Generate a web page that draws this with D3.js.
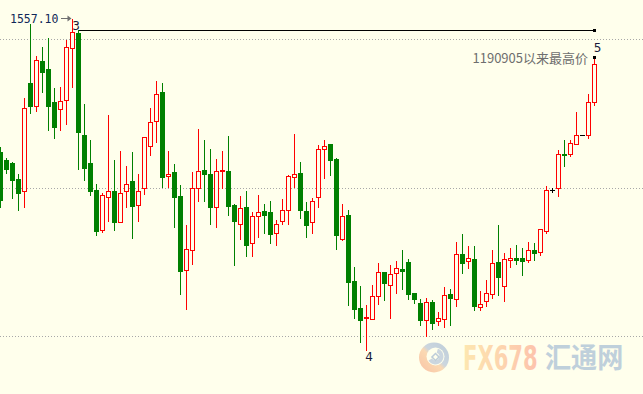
<!DOCTYPE html>
<html><head><meta charset="utf-8">
<script src="https://cdn.jsdelivr.net/npm/d3@7"></script>
<style>html,body{margin:0;padding:0;background:#ffffec;}svg{display:block;}</style>
</head><body>
<svg id="chart" width="643" height="394"></svg>
<script>
// ---- data ----
const opens = [1511.9,1509.2,1508.2,1502.8,1499.0,1535.3,1527.5,1542.4,1540.0,1528.9,
1526.5,1529.5,1547.0,1552.0,1517.6,1508.2,1499.1,1485.7,1496.9,1498.8,
1488.5,1499.0,1502.1,1494.2,1499.7,1514.1,1522.5,1532.2,1504.0,1505.1,
1497.1,1472.4,1478.9,1499.7,1505.8,1504.7,1493.6,1505.4,1505.5,1494.1,
1487.6,1493.6,1481.2,1490.3,1492.1,1491.7,1484.6,1488.9,1492.3,1503.7,
1504.8,1492.1,1488.3,1496.7,1512.8,1514.5,1509.5,1482.8,1490.7,1468.6,
1459.5,1456.0,1455.7,1463.4,1471.6,1467.3,1471.3,1472.5,1474.9,1464.5,
1461.2,1455.5,1461.4,1455.0,1455.7,1464.2,1462.4,1477.5,1475.3,1475.9,
1459.7,1461.7,1464.1,1474.9,1466.8,1475.8,1476.3,1476.3,1475.8,1479.0,
1478.5,1485.4,1499.3,1499.8,1511.3,1511.4,1514.8,1517.5,1517.7,1528.9];
const highs = [1513.5,1509.8,1508.6,1504.7,1530.3,1555.1,1544.7,1547.1,1550.4,1533.3,
1534.3,1549.8,1557.1,1552.9,1528.0,1515.9,1501.1,1498.4,1524.6,1509.2,
1512.5,1507.5,1511.9,1504.8,1517.1,1527.0,1536.0,1535.3,1512.5,1507.8,
1500.7,1487.7,1505.5,1519.9,1515.9,1512.9,1509.8,1512.5,1517.2,1494.4,
1497.4,1498.8,1492.1,1497.8,1494.4,1495.4,1489.4,1496.4,1504.5,1518.2,
1508.5,1495.1,1496.8,1514.5,1516.2,1514.5,1509.8,1494.7,1492.3,1473.3,
1466.9,1460.8,1467.6,1474.9,1471.6,1474.3,1475.7,1479.0,1475.9,1464.5,
1462.5,1463.2,1462.1,1458.4,1466.9,1465.9,1482.0,1484.3,1480.6,1480.3,
1465.5,1469.2,1479.5,1487.4,1478.3,1480.0,1480.6,1479.6,1482.0,1481.3,
1486.2,1500.9,1499.8,1513.0,1515.9,1516.3,1525.6,1517.5,1531.7,1544.0];
const lows = [1493.5,1505.0,1496.5,1492.5,1493.5,1524.9,1525.7,1532.0,1519.3,1516.7,
1519.3,1521.3,1533.8,1506.1,1502.6,1497.4,1484.1,1485.2,1488.8,1485.8,
1488.4,1493.5,1483.1,1488.8,1497.9,1510.9,1515.3,1500.2,1500.2,1486.8,
1464.3,1459.2,1474.4,1495.5,1495.5,1487.8,1486.9,1499.7,1490.8,1474.0,
1482.8,1477.1,1477.1,1483.4,1484.8,1481.4,1480.7,1487.8,1487.8,1500.3,
1489.8,1483.4,1484.8,1493.5,1503.2,1504.2,1479.3,1482.3,1460.5,1456.1,
1448.1,1445.4,1455.7,1460.9,1462.3,1456.2,1464.6,1466.0,1462.4,1461.3,
1453.9,1450.0,1452.6,1453.7,1453.0,1453.7,1460.1,1471.3,1472.9,1458.7,
1458.7,1460.1,1463.0,1464.0,1462.0,1473.2,1474.2,1470.5,1474.9,1475.7,
1477.4,1484.6,1498.5,1497.2,1507.2,1510.6,1514.8,1517.5,1516.5,1527.7];
const closes = [1495.8,1506.4,1502.6,1498.2,1526.8,1527.4,1543.0,1538.8,1527.4,1520.3,
1529.2,1547.3,1552.4,1518.7,1506.6,1498.9,1485.4,1497.4,1498.9,1488.5,
1498.3,1501.3,1493.8,1499.0,1517.1,1522.2,1531.6,1503.6,1504.7,1496.9,
1472.0,1479.2,1499.7,1505.4,1504.6,1493.5,1505.6,1505.8,1493.8,1488.8,
1493.0,1480.7,1490.3,1491.9,1490.8,1484.4,1487.9,1492.3,1504.0,1504.4,
1492.5,1487.5,1495.6,1513.1,1514.1,1509.3,1484.1,1490.3,1468.3,1459.3,
1455.6,1456.5,1463.4,1471.5,1468.0,1471.1,1472.8,1472.0,1464.3,1462.6,
1455.6,1461.4,1454.6,1456.0,1463.8,1462.8,1477.5,1474.5,1476.2,1460.3,
1460.9,1464.4,1474.5,1470.1,1475.9,1476.3,1475.7,1475.4,1478.9,1478.1,
1486.2,1499.3,1499.3,1511.4,1511.0,1515.1,1517.5,1517.5,1528.9,1541.6];
const gridValues = [1450, 1500, 1550];
const peakLabel = "1557.10";
const peakIndex = 12;
const waveLabels = ["3", "4", "5"];
const waveIndex = [12, 61, 99];
const lineFrom = 13, lineTo = 99;           // resistance line from wave-3 bar to last bar
const noteText = "1190905以来最高价";
const wmText = ["FX678", "汇通网"];

// ---- drawing ----
const W = 643, H = 394;
const svg = d3.select("#chart");
svg.append("rect").attr("width", W).attr("height", H).attr("fill", "#ffffec");

const idx = d3.range(opens.length);
const x = d3.scaleLinear().domain([0, 99]).range([0.5, 594.5]);
const y = d3.scaleLinear().domain([1450, 1550]).range([336.8, 39.3]);
const py = v => Math.floor(y(v)) + 0.5;

// watermark
const wm = svg.append("g").attr("opacity", 0.85);
const defs = svg.append("defs");
const g1 = defs.append("linearGradient").attr("id", "fxg").attr("x1", "0").attr("x2", "1");
g1.append("stop").attr("offset", "0").attr("stop-color", "#fde3a6");
g1.append("stop").attr("offset", "1").attr("stop-color", "#fdb9a2");
const g2 = defs.append("linearGradient").attr("id", "lg").attr("x1", "0").attr("y1", "1").attr("x2", "1").attr("y2", "0");
g2.append("stop").attr("offset", "0").attr("stop-color", "#f8b89a");
g2.append("stop").attr("offset", "0.45").attr("stop-color", "#fbd3a8");
g2.append("stop").attr("offset", "0.55").attr("stop-color", "#c3d0dd");
g2.append("stop").attr("offset", "1").attr("stop-color", "#b2c4d6");
const lc = [434, 357.5];
wm.append("circle").attr("cx", lc[0]).attr("cy", lc[1]).attr("r", 15).attr("fill", "url(#lg)");
wm.append("circle").attr("cx", lc[0] + 1.5).attr("cy", lc[1] - 1).attr("r", 9).attr("fill", "#ffffec");
wm.append("path").attr("d", d3.arc()({innerRadius: 4, outerRadius: 8, startAngle: 0.3, endAngle: 4.2}))
  .attr("transform", `translate(${lc[0] + 1.5},${lc[1] - 1})`).attr("fill", "#c3d0dd");
wm.append("rect").attr("x", lc[0] - 1).attr("y", lc[1] - 3).attr("width", 5).attr("height", 5)
  .attr("transform", `rotate(45,${lc[0] + 1.5},${lc[1] - 0.5})`).attr("fill", "none").attr("stroke", "#b2c4d6").attr("stroke-width", 1.5);
wm.append("text").attr("transform", "translate(463,370) scale(0.62,1)").attr("x", 0).attr("y", 0)
  .attr("font-family", "DejaVu Sans").attr("font-weight", "bold")
  .attr("font-size", 34).attr("fill", "url(#fxg)").text(wmText[0]);
wm.append("text").attr("transform", "translate(545,368) scale(0.9,1)").attr("x", 0).attr("y", 0)
  .attr("font-family", "Noto Sans CJK SC").attr("font-weight", "bold")
  .attr("font-size", 29).attr("fill", "#b5c8d9").text(wmText[1]);

// grid
svg.append("g").selectAll("line").data(gridValues).join("line")
  .attr("x1", 0).attr("x2", W).attr("y1", d => py(d)).attr("y2", d => py(d))
  .attr("stroke", "#a8a8a8").attr("stroke-dasharray", "1,2");

// candles
const RED = "#ff0000", GREEN = "#008000", BLACK = "#000000";
const colorOf = i => closes[i] > opens[i] ? RED : closes[i] < opens[i] ? GREEN : BLACK;
const cg = svg.append("g").attr("shape-rendering", "crispEdges");
idx.forEach(i => {
  const xc = x(i);
  const col = colorOf(i);
  const top = Math.max(opens[i], closes[i]), bot = Math.min(opens[i], closes[i]);
  const yt = py(top), yb = py(bot);
  if (col === RED) {
    cg.append("line").attr("x1", xc).attr("x2", xc).attr("y1", py(highs[i])).attr("y2", yt).attr("stroke", RED);
    cg.append("line").attr("x1", xc).attr("x2", xc).attr("y1", yb).attr("y2", py(lows[i]) + 0.5).attr("stroke", RED);
    cg.append("rect").attr("x", xc - 2).attr("y", yt).attr("width", 4).attr("height", Math.max(1, yb - yt))
      .attr("fill", "#ffffec").attr("stroke", RED);
  } else if (col === GREEN) {
    cg.append("line").attr("x1", xc).attr("x2", xc).attr("y1", py(highs[i]) - 0.5).attr("y2", py(lows[i]) + 0.5).attr("stroke", GREEN);
    cg.append("rect").attr("x", xc - 2.5).attr("y", yt - 0.5).attr("width", 5).attr("height", Math.max(1, yb - yt + 1))
      .attr("fill", GREEN);
  } else {
    cg.append("line").attr("x1", xc).attr("x2", xc).attr("y1", py(highs[i]) - 0.5).attr("y2", py(lows[i]) + 0.5).attr("stroke", BLACK);
    cg.append("line").attr("x1", xc - 2.5).attr("x2", xc + 2.5).attr("y1", yt).attr("y2", yt).attr("stroke", BLACK);
  }
});

// resistance line and markers
const ly = py(highs[lineFrom]);
svg.append("line").attr("x1", x(lineFrom)).attr("x2", x(lineTo)).attr("y1", ly).attr("y2", ly)
  .attr("stroke", "#000").attr("stroke-width", 1).attr("shape-rendering", "crispEdges");
svg.append("rect").attr("x", x(lineTo) - 1.5).attr("y", ly - 1.5).attr("width", 3).attr("height", 3).attr("fill", "#000");
svg.append("rect").attr("x", x(99) - 1.5).attr("y", py(highs[99]) - 1.5).attr("width", 3).attr("height", 3).attr("fill", "#000");

// peak label with arrow
const pky = y(highs[peakIndex]);
svg.append("text").attr("x", 10).attr("y", pky + 5).attr("font-family", "DejaVu Sans Mono").attr("font-size", 11.5)
  .attr("fill", "#102858").text(peakLabel);
svg.append("line").attr("x1", 61).attr("x2", x(peakIndex) - 3).attr("y1", Math.round(pky) + 0.5).attr("y2", Math.round(pky) + 0.5)
  .attr("stroke", "#707070");
svg.append("path").attr("d", `M${x(peakIndex) - 1},${Math.round(pky) + 0.5} l-4,-3 l0,6 z`).attr("fill", "#707070");

// wave labels
const waveY = [y(highs[12]) + 11.5, y(lows[61]) + 11, y(highs[99]) - 5];
const waveX = [x(12) + 3.5, x(61) + 2.5, x(99) + 3];
waveLabels.forEach((t, k) => {
  svg.append("text").attr("x", waveX[k]).attr("y", waveY[k]).attr("text-anchor", "middle")
    .attr("font-family", "DejaVu Sans").attr("font-size", 12).attr("fill", "#1a1a3a").text(t);
});

// note text
svg.append("text").attr("x", 588).attr("y", 62.5).attr("text-anchor", "end")
  .attr("font-family", "Noto Sans CJK SC").attr("font-size", 13).attr("fill", "#6e6e6e").text(noteText);
</script>
</body></html>
